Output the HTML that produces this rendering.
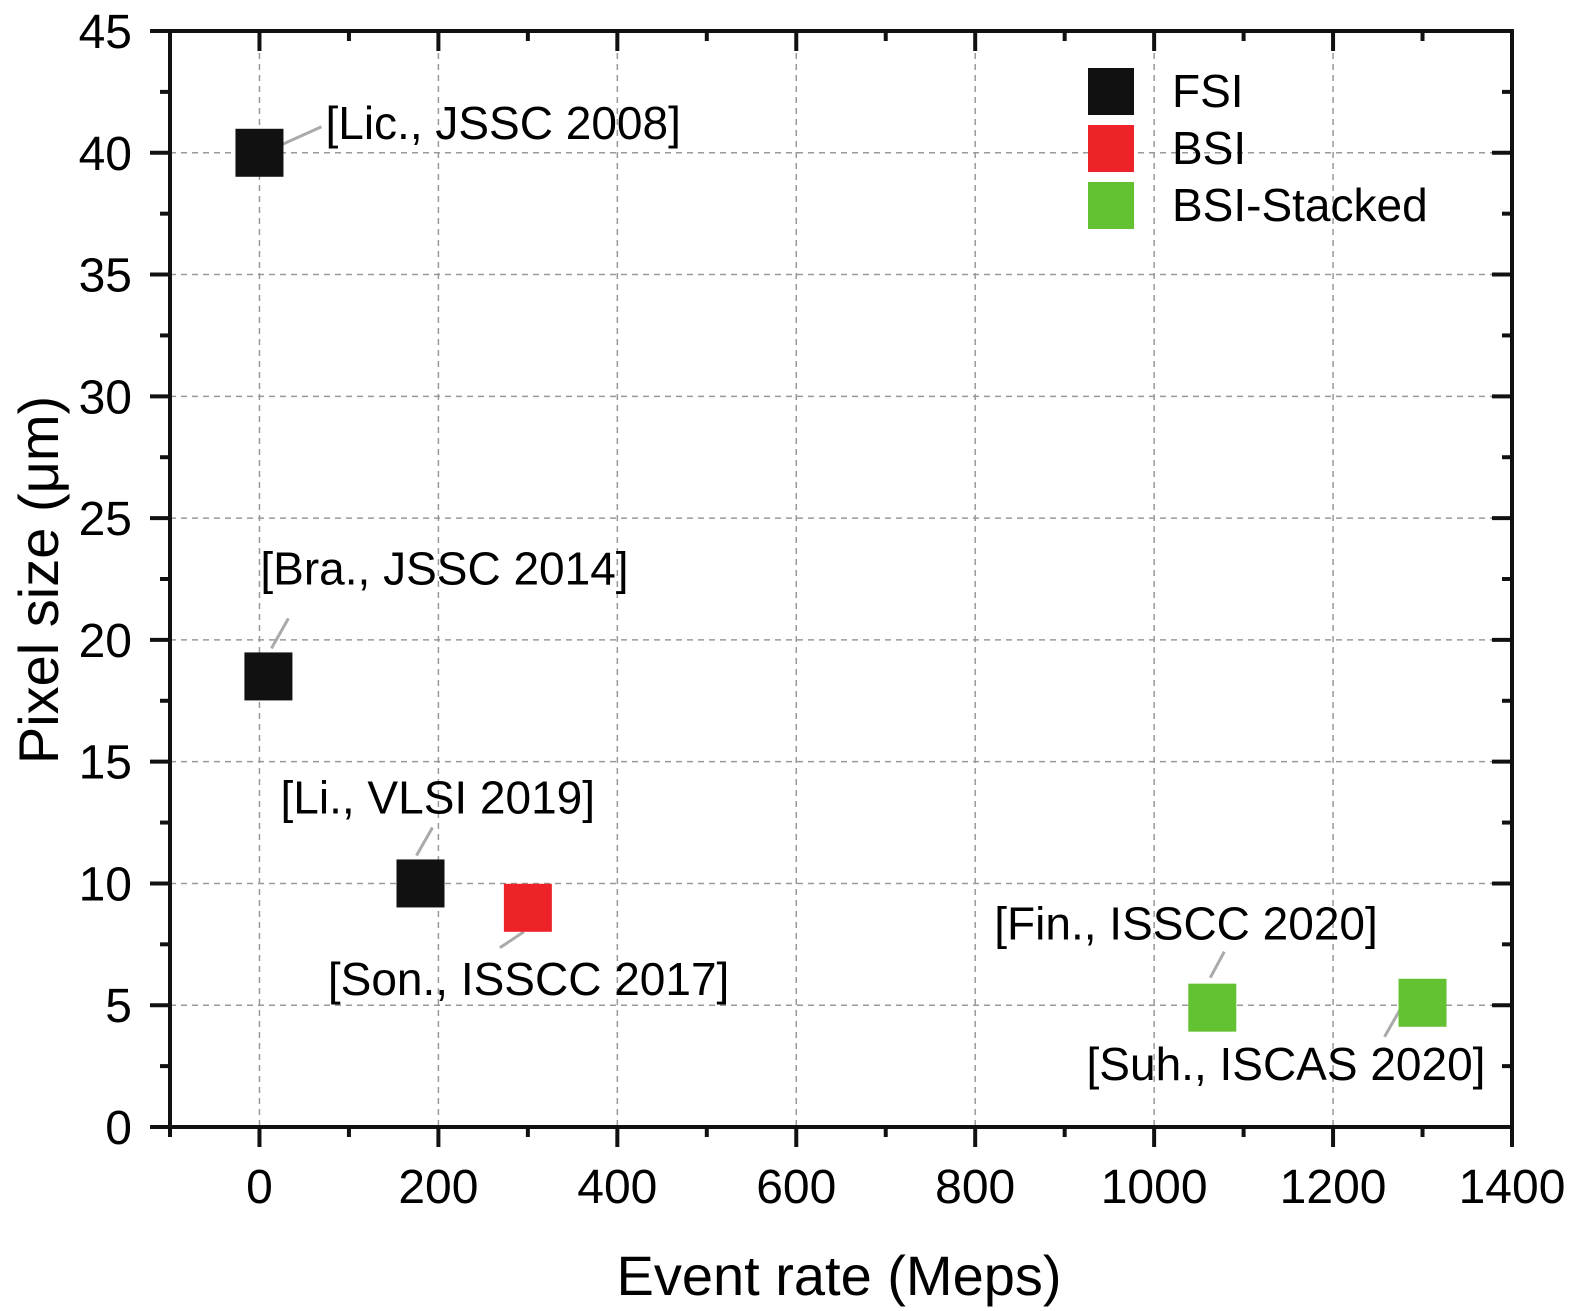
<!DOCTYPE html>
<html><head><meta charset="utf-8"><style>
html,body{margin:0;padding:0;background:#fff;}
svg{display:block;font-family:"Liberation Sans",Arial,sans-serif;}
</style></head><body>
<svg id="chart" width="1575" height="1311" viewBox="0 0 1575 1311" xmlns="http://www.w3.org/2000/svg">
<g id="grid"></g>
<g id="marks"></g>
<g id="axes"></g>
<g id="legend">
  <rect x="1088" y="68" width="46" height="47" fill="#111"/>
  <text x="1172" y="107" font-size="46">FSI</text>
  <rect x="1088" y="125" width="46" height="47" fill="#ee2229"/>
  <text x="1172" y="164" font-size="46">BSI</text>
  <rect x="1088" y="182" width="46" height="47" fill="#63c232"/>
  <text x="1172" y="221" font-size="46">BSI-Stacked</text>
</g>
<text x="839" y="1295" font-size="56" text-anchor="middle">Event rate (Meps)</text>
<text transform="translate(58,580) rotate(-90)" font-size="56" text-anchor="middle">Pixel size (μm)</text>
</svg>
<script>
const xTicks=[0,200,400,600,800,1000,1200,1400];
const yTicks=[0,5,10,15,20,25,30,35,40,45];
const pointX=[0,10,180,300,1065,1300];
const pointY=[40,18.5,10,9,4.9,5.1];
const pointType=["FSI","FSI","FSI","BSI","BSI-Stacked","BSI-Stacked"];
const pointLabels=["[Lic., JSSC 2008]","[Bra., JSSC 2014]","[Li., VLSI 2019]","[Son., ISSCC 2017]","[Fin., ISSCC 2020]","[Suh., ISCAS 2020]"];
const NS="http://www.w3.org/2000/svg";
const X0=170,X1=1512,Y0=1127,Y1=31,xmin=-100,xmax=1400,ymin=0,ymax=45;
const sx=v=>X0+(v-xmin)/(xmax-xmin)*(X1-X0);
const sy=v=>Y0-(v-ymin)/(ymax-ymin)*(Y0-Y1);
function mk(tag,attrs,parent){const e=document.createElementNS(NS,tag);for(const k in attrs)e.setAttribute(k,attrs[k]);parent.appendChild(e);return e;}
const grid=document.getElementById('grid'),axes=document.getElementById('axes'),marks=document.getElementById('marks');
xTicks.forEach(t=>{if(t>xmin&&t<xmax){const l=mk('line',{x1:sx(t),x2:sx(t),y1:Y1,y2:Y0,stroke:'#999','stroke-width':1.5,'stroke-dasharray':'6,5'},grid);

}});
yTicks.forEach(t=>{if(t>ymin&&t<ymax){const l=mk('line',{x1:X0,x2:X1,y1:sy(t),y2:sy(t),stroke:'#999','stroke-width':1.5,'stroke-dasharray':'6,5'},grid);

}});
const frame=mk('rect',{x:X0,y:Y1,width:X1-X0,height:Y0-Y1,fill:'none',stroke:'#111','stroke-width':4},axes);


for(let v=-100;v<=1400;v+=100){const major=v%200===0;const L=major?20:10;const x=sx(v);
mk('line',{x1:x,x2:x,y1:Y0,y2:Y0+L,stroke:'#111','stroke-width':4},axes);
mk('line',{x1:x,x2:x,y1:Y1,y2:Y1+L,stroke:'#111','stroke-width':4},axes);}
for(let v=0;v<=45;v+=2.5){const major=v%5===0;const L=major?20:10;const y=sy(v);
mk('line',{x1:X0-L,x2:X0,y1:y,y2:y,stroke:'#111','stroke-width':4},axes);
mk('line',{x1:X1-L,x2:X1,y1:y,y2:y,stroke:'#111','stroke-width':4},axes);}
xTicks.forEach(t=>{const tx=mk('text',{x:sx(t),y:Y0+76,'font-size':48,'text-anchor':'middle'},axes);tx.textContent=t;

});
yTicks.forEach(t=>{const tx=mk('text',{x:X0-38,y:sy(t)+17,'font-size':48,'text-anchor':'end'},axes);tx.textContent=t;

});
const colors={"FSI":"#111","BSI":"#ee2229","BSI-Stacked":"#63c232"};
const lab=[[22,-8,62,-26,66,-14],[3,-28,20,-58,-8,-92],[-4,-28,12,-56,-140,-70],[-28,40,-4,24,-200,87],[-2,-30,12,-56,-218,-68],[-38,34,-22,6,-336,77]];
pointX.forEach((v,i)=>{const cx=sx(v),cy=sy(pointY[i]);const o=lab[i];
const ln=mk('line',{x1:cx+o[0],y1:cy+o[1],x2:cx+o[2],y2:cy+o[3],stroke:'#aaa','stroke-width':3},marks);


const r=mk('rect',{x:cx-24,y:cy-24,width:48,height:48,fill:colors[pointType[i]]},marks);


const tx=mk('text',{x:cx+o[4],y:cy+o[5],'font-size':46},marks);tx.textContent=pointLabels[i];

});
</script>
</body></html>
